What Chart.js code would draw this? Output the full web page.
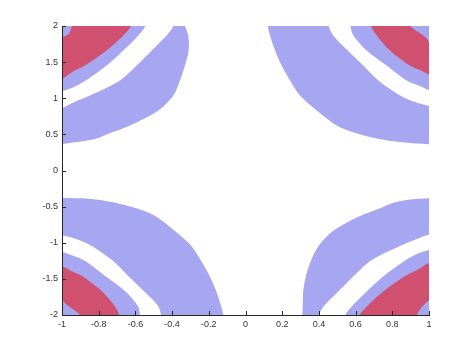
<!DOCTYPE html>
<html>
<head>
<meta charset="utf-8">
<script src="https://cdn.jsdelivr.net/npm/chart.js@4.4.1/dist/chart.umd.min.js"></script>
<style>
html,body{margin:0;padding:0;background:#ffffff;}
canvas{display:block;}
</style>
</head>
<body>
<canvas id="c" width="474" height="355"></canvas>
<script>
// Tick values and labels
const xTicks = [-1, -0.8, -0.6, -0.4, -0.2, 0, 0.2, 0.4, 0.6, 0.8, 1];
const xTickLabels = ['-1', '-0.8', '-0.6', '-0.4', '-0.2', '0', '0.2', '0.4', '0.6', '0.8', '1'];
const yTicks = [-2, -1.5, -1, -0.5, 0, 0.5, 1, 1.5, 2];
const yTickLabels = ['-2', '-1.5', '-1', '-0.5', '0', '0.5', '1', '1.5', '2'];

// Corner points of the plot (each contour region closes on its corner)
const cornerTL = [-1, 2];
const cornerTR = [1, 2];
const cornerBL = [-1, -2];
const cornerBR = [1, -2];

// Contour level 1..5 (outermost to innermost), per corner
// Top-left
const tlLevel1 = [[-0.33, 2], [-0.312, 1.869], [-0.31, 1.661], [-0.33, 1.453], [-0.357, 1.246], [-0.393, 1.038], [-0.475, 0.83], [-0.629, 0.623], [-0.73, 0.525], [-0.811, 0.443], [-0.9, 0.40], [-1, 0.367]];
const tlLevel2 = [[-0.393, 2], [-0.43, 1.869], [-0.511, 1.661], [-0.593, 1.453], [-0.684, 1.246], [-0.847, 1.038], [-0.93, 0.95], [-1, 0.865]];
const tlLevel3 = [[-0.546, 2], [-0.584, 1.869], [-0.666, 1.661], [-0.757, 1.453], [-0.87, 1.246], [-0.94, 1.15], [-1, 1.10]];
const tlLevel4 = [[-0.624, 2], [-0.666, 1.869], [-0.757, 1.661], [-0.875, 1.453], [-0.94, 1.37], [-1, 1.27]];
const tlLevel5 = [[-0.947, 2], [-0.9625, 1.894], [-1, 1.85]];
// Top-right
const trLevel1 = [[0.121, 2], [0.134, 1.869], [0.161, 1.661], [0.197, 1.453], [0.243, 1.246], [0.297, 1.038], [0.388, 0.83], [0.497, 0.623], [0.60, 0.52], [0.715, 0.443], [0.85, 0.39], [1, 0.363]];
const trLevel2 = [[0.453, 2], [0.478, 1.869], [0.557, 1.661], [0.642, 1.453], [0.724, 1.246], [0.843, 1.038], [0.92, 0.95], [1, 0.893]];
const trLevel3 = [[0.571, 2], [0.588, 1.869], [0.66, 1.661], [0.769, 1.453], [0.878, 1.246], [0.95, 1.17], [1, 1.114]];
const trLevel4 = [[0.684, 2], [0.715, 1.869], [0.787, 1.661], [0.896, 1.453], [0.95, 1.39], [1, 1.33]];
const trLevel5 = [[0.898, 2], [0.969, 1.869], [0.99, 1.82], [1, 1.78]];
// Bottom-left
const blLevel1 = [[-0.121, -2], [-0.134, -1.869], [-0.161, -1.661], [-0.197, -1.453], [-0.243, -1.246], [-0.297, -1.038], [-0.388, -0.83], [-0.497, -0.623], [-0.60, -0.52], [-0.715, -0.443], [-0.85, -0.39], [-1, -0.38]];
const blLevel2 = [[-0.46, -2], [-0.478, -1.869], [-0.557, -1.661], [-0.642, -1.453], [-0.724, -1.246], [-0.843, -1.038], [-0.92, -0.95], [-1, -0.897]];
const blLevel3 = [[-0.575, -2], [-0.588, -1.869], [-0.66, -1.661], [-0.769, -1.453], [-0.878, -1.246], [-0.95, -1.17], [-1, -1.128]];
const blLevel4 = [[-0.688, -2], [-0.715, -1.869], [-0.787, -1.661], [-0.896, -1.453], [-0.95, -1.39], [-1, -1.326]];
const blLevel5 = [[-0.902, -2], [-0.969, -1.869], [-0.99, -1.82], [-1, -1.79]];
// Bottom-right
const brLevel1 = [[0.31, -2], [0.312, -1.869], [0.315, -1.661], [0.33, -1.453], [0.357, -1.246], [0.40, -1.038], [0.48, -0.83], [0.63, -0.623], [0.73, -0.525], [0.811, -0.443], [0.9, -0.40], [1, -0.385]];
const brLevel2 = [[0.399, -2], [0.43, -1.869], [0.511, -1.661], [0.593, -1.453], [0.684, -1.246], [0.847, -1.038], [0.93, -0.95], [1, -0.89]];
const brLevel3 = [[0.544, -2], [0.584, -1.869], [0.666, -1.661], [0.757, -1.453], [0.87, -1.246], [0.94, -1.15], [1, -1.10]];
const brLevel4 = [[0.622, -2], [0.666, -1.869], [0.757, -1.661], [0.875, -1.453], [0.94, -1.37], [1, -1.28]];
const brLevel5 = [[0.935, -2], [0.96, -1.894], [1, -1.80]];

const BLUE = 'rgb(166,166,241)';
const RED = 'rgb(208,80,112)';
const WHITE = '#ffffff';
const levelColors = [BLUE, WHITE, BLUE, RED, BLUE];

const groups = [
  [cornerTL, [tlLevel1, tlLevel2, tlLevel3, tlLevel4, tlLevel5]],
  [cornerTR, [trLevel1, trLevel2, trLevel3, trLevel4, trLevel5]],
  [cornerBL, [blLevel1, blLevel2, blLevel3, blLevel4, blLevel5]],
  [cornerBR, [brLevel1, brLevel2, brLevel3, brLevel4, brLevel5]]
];

// Close each contour on its corner; guide points just outside the plot (clipped away)
// keep the smoothed curve meeting the plot edges cleanly.
function closedShape(curve, corner) {
  const sx = Math.sign(corner[0]), sy = Math.sign(corner[1]);
  const first = curve[0], last = curve[curve.length - 1];
  const pts = [[first[0], first[1] + sy * 0.08]]
    .concat(curve)
    .concat([[last[0] + sx * 0.04, last[1]], [corner[0] + sx * 0.04, corner[1] + sy * 0.08]]);
  return pts.map(p => ({x: p[0], y: p[1]}));
}

const datasets = [];
groups.forEach(([corner, levels]) => {
  levels.forEach((curve, i) => {
    datasets.push({
      data: closedShape(curve, corner),
      showLine: true,
      fill: 'shape',
      backgroundColor: levelColors[i],
      borderColor: 'rgba(0,0,0,0)',
      borderWidth: 0,
      pointRadius: 0,
      pointHoverRadius: 0,
      tension: 0.3,
      capBezierPoints: false,
      order: 10 - i
    });
  });
});

const AXIS = '#262626';
const inwardTicks = {
  id: 'inwardTicks',
  afterDraw(chart) {
    const {ctx, chartArea, scales} = chart;
    ctx.save();
    ctx.strokeStyle = AXIS;
    ctx.lineWidth = 1;
    ctx.beginPath();
    scales.x.ticks.forEach(t => {
      const px = Math.round(scales.x.getPixelForValue(t.value)) + 0.5;
      ctx.moveTo(px, chartArea.bottom);
      ctx.lineTo(px, chartArea.bottom - 4);
    });
    scales.y.ticks.forEach(t => {
      const py = Math.round(scales.y.getPixelForValue(t.value)) + 0.5;
      ctx.moveTo(chartArea.left, py);
      ctx.lineTo(chartArea.left + 4, py);
    });
    ctx.stroke();
    ctx.restore();
  }
};

const tickFont = {family: "'Liberation Sans', Arial, Helvetica, sans-serif", size: 9};

new Chart(document.getElementById('c'), {
  type: 'scatter',
  data: {datasets},
  options: {
    responsive: false,
    animation: false,
    events: [],
    elements: {line: {capBezierPoints: false}},
    layout: {padding: {top: 26, right: 45, bottom: 0, left: 0}},
    plugins: {legend: {display: false}, tooltip: {enabled: false}},
    scales: {
      x: {
        type: 'linear',
        min: -1, max: 1,
        afterBuildTicks: s => { s.ticks = xTicks.map(v => ({value: v})); },
        afterFit: s => { s.height = 40; },
        grid: {display: false, drawTicks: false, tickLength: 0},
        border: {display: true, color: AXIS, width: 1, z: 1},
        ticks: {
          autoSkip: false, maxRotation: 0, minRotation: 0, padding: 4,
          color: '#333333', font: tickFont,
          callback: (v, i) => xTickLabels[i]
        }
      },
      y: {
        type: 'linear',
        min: -2, max: 2,
        afterBuildTicks: s => { s.ticks = yTicks.map(v => ({value: v})); },
        afterFit: s => { s.width = 62; },
        grid: {display: false, drawTicks: false, tickLength: 0},
        border: {display: true, color: AXIS, width: 1, z: 1},
        ticks: {
          autoSkip: false, padding: 4,
          color: '#333333', font: tickFont,
          callback: (v, i) => yTickLabels[i]
        }
      }
    }
  },
  plugins: [inwardTicks]
});
</script>
</body>
</html>
